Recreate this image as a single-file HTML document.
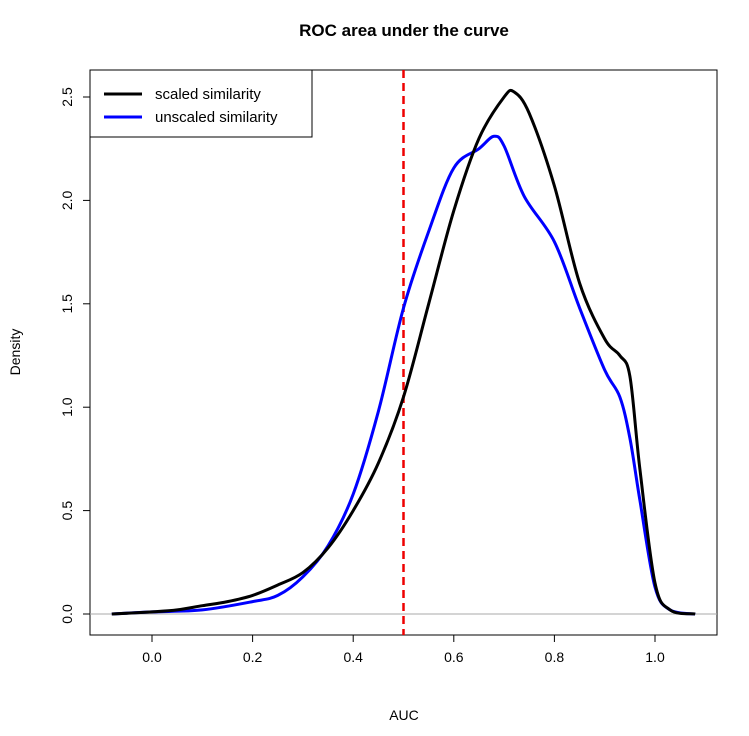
<!DOCTYPE html>
<html><head><meta charset="utf-8"><style>body{margin:0;background:#fff}</style></head><body>
<svg id="s" width="749" height="731" xmlns="http://www.w3.org/2000/svg" font-family="Liberation Sans, Arial, sans-serif">
<rect width="749" height="731" fill="#fff"/>
<text x="404" y="36" text-anchor="middle" font-size="17" font-weight="bold">ROC area under the curve</text>
<rect x="90" y="70" width="627" height="565" fill="none" stroke="#000" stroke-width="1"/>
<line x1="90" y1="614" x2="717" y2="614" stroke="#aaa" stroke-width="1"/>
<g stroke="#000" stroke-width="1">
<line x1="152" y1="635" x2="152" y2="642"/><line x1="252.6" y1="635" x2="252.6" y2="642"/><line x1="353.2" y1="635" x2="353.2" y2="642"/><line x1="453.8" y1="635" x2="453.8" y2="642"/><line x1="554.4" y1="635" x2="554.4" y2="642"/><line x1="655" y1="635" x2="655" y2="642"/>
<line x1="83" y1="614" x2="90" y2="614"/><line x1="83" y1="510.6" x2="90" y2="510.6"/><line x1="83" y1="407.2" x2="90" y2="407.2"/><line x1="83" y1="303.8" x2="90" y2="303.8"/><line x1="83" y1="200.4" x2="90" y2="200.4"/><line x1="83" y1="97" x2="90" y2="97"/>
</g>
<g font-size="14" text-anchor="middle">
<text x="152" y="662">0.0</text><text x="252.6" y="662">0.2</text><text x="353.2" y="662">0.4</text><text x="453.8" y="662">0.6</text><text x="554.4" y="662">0.8</text><text x="655" y="662">1.0</text>
<text transform="translate(72,614) rotate(-90)">0.0</text>
<text transform="translate(72,510.6) rotate(-90)">0.5</text>
<text transform="translate(72,407.2) rotate(-90)">1.0</text>
<text transform="translate(72,303.8) rotate(-90)">1.5</text>
<text transform="translate(72,200.4) rotate(-90)">2.0</text>
<text transform="translate(72,97) rotate(-90)">2.5</text>
<text x="404" y="720">AUC</text>
<text transform="translate(20,352) rotate(-90)">Density</text>
</g>
<line x1="403.5" y1="70" x2="403.5" y2="635" stroke="#e00" stroke-width="2.5" stroke-dasharray="8,5"/>
<polyline class="c" fill="none" stroke="#00f" stroke-width="3" stroke-linejoin="round" points="111.8,614 152,611.9 202.3,609.9 252.6,601.6 277.8,595.4 302.9,576.8 328.1,545.8 353.2,494.1 378.4,411.3 403.5,308 428.7,231.4 453.8,168 479,148.7 494,136.3 504.1,146 524.2,196.3 554.4,241.8 579.6,307.9 604.7,370 619.8,396.9 629.9,438.2 639.9,500.3 655,587.1 670.1,609.9 695.2,614"/>
<polyline class="c" fill="none" stroke="#000" stroke-width="3" stroke-linejoin="round" points="111.8,614 152,611.9 177.2,609.9 202.3,605.7 227.5,601.6 252.6,595.4 277.8,585 302.9,572.6 328.1,547.8 353.2,510.6 378.4,463 403.5,396.9 428.7,303.8 453.8,210.7 479,138.4 504.1,97 514.2,92 529.3,113.5 554.4,185.9 579.6,283.1 604.7,338.9 619.8,355.5 629.9,376.2 639.9,469.2 655,583 670.1,609.9 695.2,614"/>
<rect x="90" y="70" width="222" height="67" fill="#fff" stroke="#000" stroke-width="1"/>
<line x1="104" y1="94" x2="142" y2="94" stroke="#000" stroke-width="3"/>
<line x1="104" y1="117" x2="142" y2="117" stroke="#00f" stroke-width="3"/>
<text x="155" y="99" font-size="15">scaled similarity</text>
<text x="155" y="122" font-size="15">unscaled similarity</text>
</svg>
<script>
document.querySelectorAll('polyline.c').forEach(function(pl){
var p=pl.getAttribute('points').trim().split(/\s+/).map(function(s){return s.split(',').map(Number);});
var d='M'+p[0][0]+','+p[0][1];
for(var i=0;i<p.length-1;i++){
var p0=p[i-1]||p[i],p1=p[i],p2=p[i+1],p3=p[i+2]||p2,t=6;
d+='C'+(p1[0]+(p2[0]-p0[0])/t)+','+(p1[1]+(p2[1]-p0[1])/t)+' '+(p2[0]-(p3[0]-p1[0])/t)+','+(p2[1]-(p3[1]-p1[1])/t)+' '+p2[0]+','+p2[1];}
var e=document.createElementNS('http://www.w3.org/2000/svg','path');
e.setAttribute('d',d);e.setAttribute('fill','none');e.setAttribute('stroke',pl.getAttribute('stroke'));e.setAttribute('stroke-width','3');
pl.parentNode.replaceChild(e,pl);});
</script>
</body></html>
